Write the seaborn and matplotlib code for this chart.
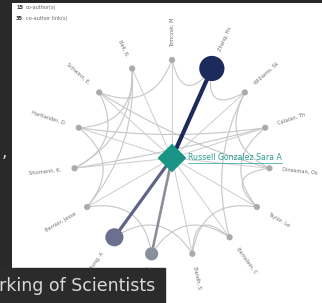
import numpy as np
import pandas as pd
import matplotlib
matplotlib.use("Agg")
import matplotlib.pyplot as plt
import seaborn as sns
from matplotlib.path import Path
from matplotlib.patches import PathPatch, Rectangle

# ---------------- data ----------------
focal_author = "Russell Gonzalez Sara A"
coauthors = ["Tomczak, M", "Zhang, Hs", "Williams, Sk", "Catalán, Th", "Dinesman, Os",
             "Taylor, Le", "Bernstein, C", "Bandh, S", "Ruiz, P", "Young, A",
             "Bernier, Jesse", "Shumann, K.", "Hartlander, D.", "Schwinn, E.", "Bell, R."]
joint_papers = [1, 9, 1, 1, 1, 1, 1, 1, 3, 5, 1, 1, 1, 1, 1]
coauthor_links = [(0, 1), (1, 2), (0, 13), (14, 12), (14, 11), (13, 11), (12, 10),
                  (12, 3), (11, 3), (13, 4), (2, 4), (3, 5), (4, 5), (5, 7),
                  (6, 7), (6, 8), (7, 9), (8, 10), (10, 14), (2, 6)]
legend_counts = [15, 35]
legend_labels = ["co-author(s)", "co-author link(s)"]
title_text = "rking of Scientists"

# ---------------- styles ----------------
node_color = {1: "#ababab", 3: "#8a9099", 5: "#6b7090", 9: "#1c2a5c"}
node_size = {1: 20, 3: 90, 5: 170, 9: 330}
edge_color = {1: "#cdcdcd", 3: "#8a9099", 5: "#5f6486", 9: "#1c2a5c"}
edge_width = {1: 0.7, 3: 1.9, 5: 2.3, 9: 3.0}
teal = "#1a9484"
bg = "#292929"

sns.set_theme(style="white")
plt.rcParams["font.family"] = ["DejaVu Sans"]

W, H = 322, 303
fig = plt.figure(figsize=(W / 100, H / 100), dpi=100)
fig.patch.set_facecolor(bg)

# white panel
px_l, px_t = 12, 3
ax = fig.add_axes([px_l / W, 0, (W - px_l) / W, (H - px_t) / H])
ax.set_xlim(px_l, W)
ax.set_ylim(H, px_t)
ax.set_facecolor("white")
ax.set_axis_off()
ax.add_patch(Rectangle((px_l, px_t), W - px_l, H - px_t, color="white", zorder=0))

# layout (circular)
cx, cy, R = 172, 158, 98
n = len(coauthors)
ang = np.deg2rad(np.arange(n) * 360.0 / n)
xs = cx + R * np.sin(ang)
ys = cy - R * np.cos(ang)

df = pd.DataFrame({"name": coauthors, "papers": joint_papers, "x": xs, "y": ys})

# co-author links (curved)
k = 0.55
for a, b in coauthor_links:
    p0 = np.array([xs[a], ys[a]]); p2 = np.array([xs[b], ys[b]])
    mid = (p0 + p2) / 2
    c = np.array([cx, cy]) + k * (mid - np.array([cx, cy]))
    path = Path([p0, c, p2], [Path.MOVETO, Path.CURVE3, Path.CURVE3])
    ax.add_patch(PathPatch(path, fill=False, ec="#c6c6c6", lw=0.8, zorder=1))

# links to focal author
order = np.argsort(df["papers"].values)
for i in order:
    w = joint_papers[i]
    ax.plot([cx, xs[i]], [cy, ys[i]], color=edge_color[w], lw=edge_width[w],
            solid_capstyle="butt", zorder=2 if w == 1 else 3)

# nodes
sns.scatterplot(data=df, x="x", y="y", hue="papers", size="papers",
                palette=node_color, sizes=node_size, legend=False,
                edgecolor="none", ax=ax, zorder=4)
ax.scatter([cx], [cy], marker="D", s=215, color=teal, edgecolors="none", zorder=5)
ax.set_xlim(px_l, W)
ax.set_ylim(H, px_t)
ax.set_axis_off()

# co-author labels (radial)
for i, name in enumerate(coauthors):
    r_lab = R + 13 + (6 if joint_papers[i] >= 5 else 0)
    lx = cx + r_lab * np.sin(ang[i]); ly = cy - r_lab * np.cos(ang[i])
    theta = 90 - np.rad2deg(ang[i])  # math angle
    theta = (theta + 180) % 360 - 180
    if -90 <= theta <= 90:
        rot, ha = theta, "left"
    else:
        rot, ha = theta + 180 if theta < 0 else theta - 180, "right"
    ax.text(lx, ly, name, rotation=rot, ha=ha, va="center", rotation_mode="anchor",
            fontsize=3.7, color="#6f6f6f", zorder=6)

# focal label, underlined
t = ax.text(cx + 16, cy, focal_author, ha="left", va="center", fontsize=5.6,
            color="#2a9d8f", zorder=6)
fig.canvas.draw()
bb = t.get_window_extent().transformed(ax.transData.inverted())
ax.plot([bb.x0, bb.x1], [max(bb.y0, bb.y1) + 0.2] * 2, color="#2a9d8f", lw=0.5, zorder=6)

# legend text
for j, (cnt, lab) in enumerate(zip(legend_counts, legend_labels)):
    yy = 7.5 + j * 11
    ax.text(16, yy, str(cnt), fontsize=3.6, fontweight="bold", color="#333333",
            va="center", ha="left")
    ax.text(26, yy, lab, fontsize=3.6, color="#666666", va="center", ha="left")

# title box bottom-left
fig.patches.append(Rectangle((0, 0), 165 / W, 35 / H, transform=fig.transFigure,
                             color="#2b2b2b", zorder=10))
fig.text(-1 / W, 1 - 286 / H, title_text, fontsize=12.5, color="#d9d9d9",
         ha="left", va="center", zorder=11)
fig.text(2 / W, 1 - 152 / H, ",", fontsize=12, color="#d9d9d9", ha="left",
         va="center", zorder=11)

fig.savefig("out.png", dpi=100, facecolor=fig.get_facecolor())
